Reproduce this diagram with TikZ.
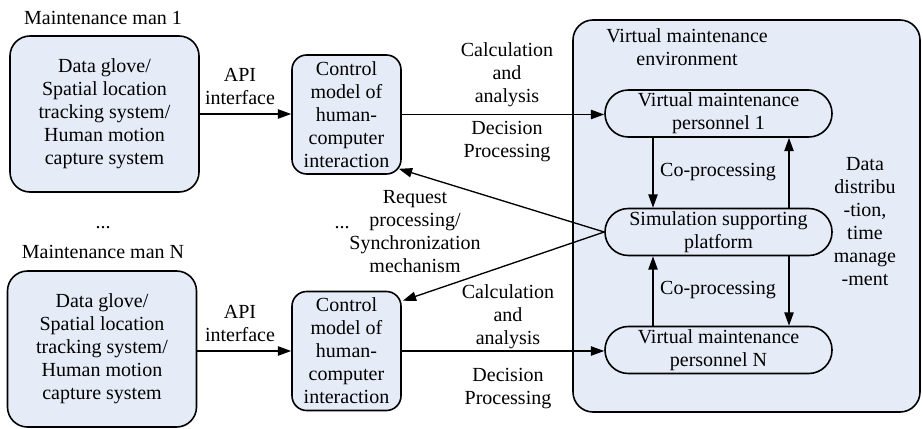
\documentclass[tikz,border=0pt]{standalone}
\usepackage{fontspec}
\setmainfont{Liberation Serif}
\usetikzlibrary{arrows.meta,calc}
\definecolor{boxfill}{RGB}{230,236,247}
\begin{document}
\begin{tikzpicture}[x=0.75pt,y=-0.75pt,
 font=\fontsize{15}{17.25}\selectfont,
 box/.style={draw,line width=1.2pt,fill=boxfill,rounded corners=15pt,inner sep=0pt,align=center},
 ctrlbox/.style={box,rounded corners=11pt,minimum width=81.75pt,minimum height=89.25pt},
 devbox/.style={box,minimum width=141.75pt,minimum height=117pt},
 pill/.style={draw,line width=1.2pt,rounded corners=17.5pt,inner sep=0pt,align=center,minimum width=170.25pt,minimum height=35.25pt},
 lbl/.style={align=center,inner sep=0pt},
 arr/.style={line width=1pt,-{Triangle[length=10pt,width=7pt]}}]
\useasboundingbox (0,0) rectangle (923,428);
% environment
\node[box,minimum width=260.25pt,minimum height=294pt] (env) at (746.5,216) {};
\node[lbl] (envlbl) at (687,47) {Virtual maintenance\\environment};
% devices
\node[lbl] (man1) at (103,18) {Maintenance man 1};
\node[devbox] (dev1) at (104.5,114) {Data glove/\\Spatial location\\tracking system/\\Human motion\\capture system};
\node[lbl] (dots1) at (103,228) {...};
\node[lbl] (manN) at (103,252) {Maintenance man N};
\node[devbox] (devN) at (102,349) {Data glove/\\Spatial location\\tracking system/\\Human motion\\capture system};
% control models
\node[ctrlbox] (ctrl1) at (346.5,114.5) {Control\\model of\\human-\\computer\\interaction};
\node[ctrlbox] (ctrlN) at (346.5,351) {Control\\model of\\human-\\computer\\interaction};
\node[lbl] (dots2) at (342,228) {...};
% virtual nodes
\node[pill] (vm1) at (718.5,113.5) {Virtual maintenance\\personnel 1};
\node[pill] (sim) at (718.5,232) {Simulation supporting\\platform};
\node[pill] (vmN) at (718.5,350) {Virtual maintenance\\personnel N};
\coordinate (xa) at (653,0);
\coordinate (xb) at (789,0);
% labels
\node[lbl] (api1) at (240,86.5) {API\\interface};
\node[lbl] (apiN) at (240,323.5) {API\\interface};
\node[lbl] (calc1) at (507,75) {Calculation\\and\\analysis};
\node[lbl] (dec1) at (507,141.5) {Decision\\Processing};
\node[lbl] (calcN) at (508,317) {Calculation\\and\\analysis};
\node[lbl] (decN) at (508,388.5) {Decision\\Processing};
\node[lbl] (req) at (415,232) {Request\\processing/\\Synchronization\\mechanism};
\node[lbl] (co1) at (718,172) {Co-processing};
\node[lbl] (coN) at (718,290) {Co-processing};
\node[lbl] (dd) at (865,222) {Data\\distribu\\-tion,\\time\\manage\\-ment};
% arrows
\draw[arr] (dev1.east) -- (dev1.east -| ctrl1.west);
\draw[arr] (devN.east |- ctrlN.west) -- (ctrlN.west);
\draw[arr] (ctrl1.east) -- (ctrl1.east -| vm1.west);
\draw[arr] (ctrlN.east) -- (ctrlN.east -| vmN.west);
\draw[arr] (vm1.south -| xa) -- (sim.north -| xa);
\draw[arr] (sim.north -| xb) -- (vm1.south -| xb);
\draw[arr] (vmN.north -| xa) -- (sim.south -| xa);
\draw[arr] (sim.south -| xb) -- (vmN.north -| xb);
\draw[arr] (sim.west) -- ($(ctrl1.south east)+(-3,-6)$);
\draw[arr] (sim.west) -- ($(ctrlN.north east)+(1,10)$);
\end{tikzpicture}
\end{document}
